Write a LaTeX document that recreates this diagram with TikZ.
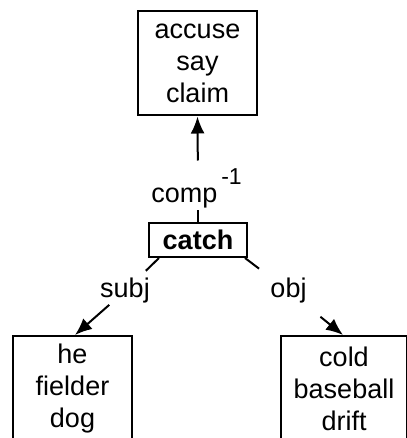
\documentclass[tikz,border=0pt]{standalone}
\usepackage{fontspec}
\setmainfont{Liberation Sans}
\usetikzlibrary{arrows.meta}

\begin{document}
\begin{tikzpicture}[x=1pt, y=-1pt, line width=2pt,
    font=\fontsize{27}{32}\selectfont,
    deparrow/.style={-{Latex[length=17pt,width=14pt]}},
    wordbox/.style={draw, align=center, inner sep=0pt, minimum width=119pt, minimum height=104pt},
    headbox/.style={draw, inner sep=0pt, minimum width=98pt, minimum height=34pt, font=\fontsize{27}{32}\selectfont\bfseries},
    relname/.style={inner sep=0pt}]
    \useasboundingbox (0,0) rectangle (406,438);
    \node[wordbox] (gov) at (197.5,63.5) {accuse\\say\\claim};
    \node[headbox] (catch) at (198,240) {catch};
    \node[relname] (comp) at (196.5,188.5) {comp\kern4pt\raisebox{18pt}{\fontsize{23}{23}\selectfont -1}};
    \node[relname] (subj) at (125,291) {subj};
    \node[relname] (obj) at (288.5,291) {obj};
    \node[wordbox, minimum height=106pt] (subjbox) at (72.5,389) {he\\fielder\\dog};
    \node[wordbox, minimum height=106pt, minimum width=126pt] (objbox) at (344,389) {cold\\baseball\\drift};
    \draw[shorten >=21pt] (catch.north) -- (catch.north |- comp.center);
    \draw[deparrow, shorten <=28pt] (catch.north |- comp.center) -- (gov.south);
    \draw[shorten >=29pt] ([xshift=11pt]catch.south west) -- (subj.center);
    \draw[deparrow, shorten <=21pt] (subj.center) -- ([xshift=2.5pt]subjbox.north);
    \draw[shorten >=37pt] ([xshift=-3pt]catch.south east) -- (obj.center);
    \draw[deparrow, shorten <=41pt] (obj.center) -- ([xshift=-1pt]objbox.north);
  \end{tikzpicture}
\end{document}
